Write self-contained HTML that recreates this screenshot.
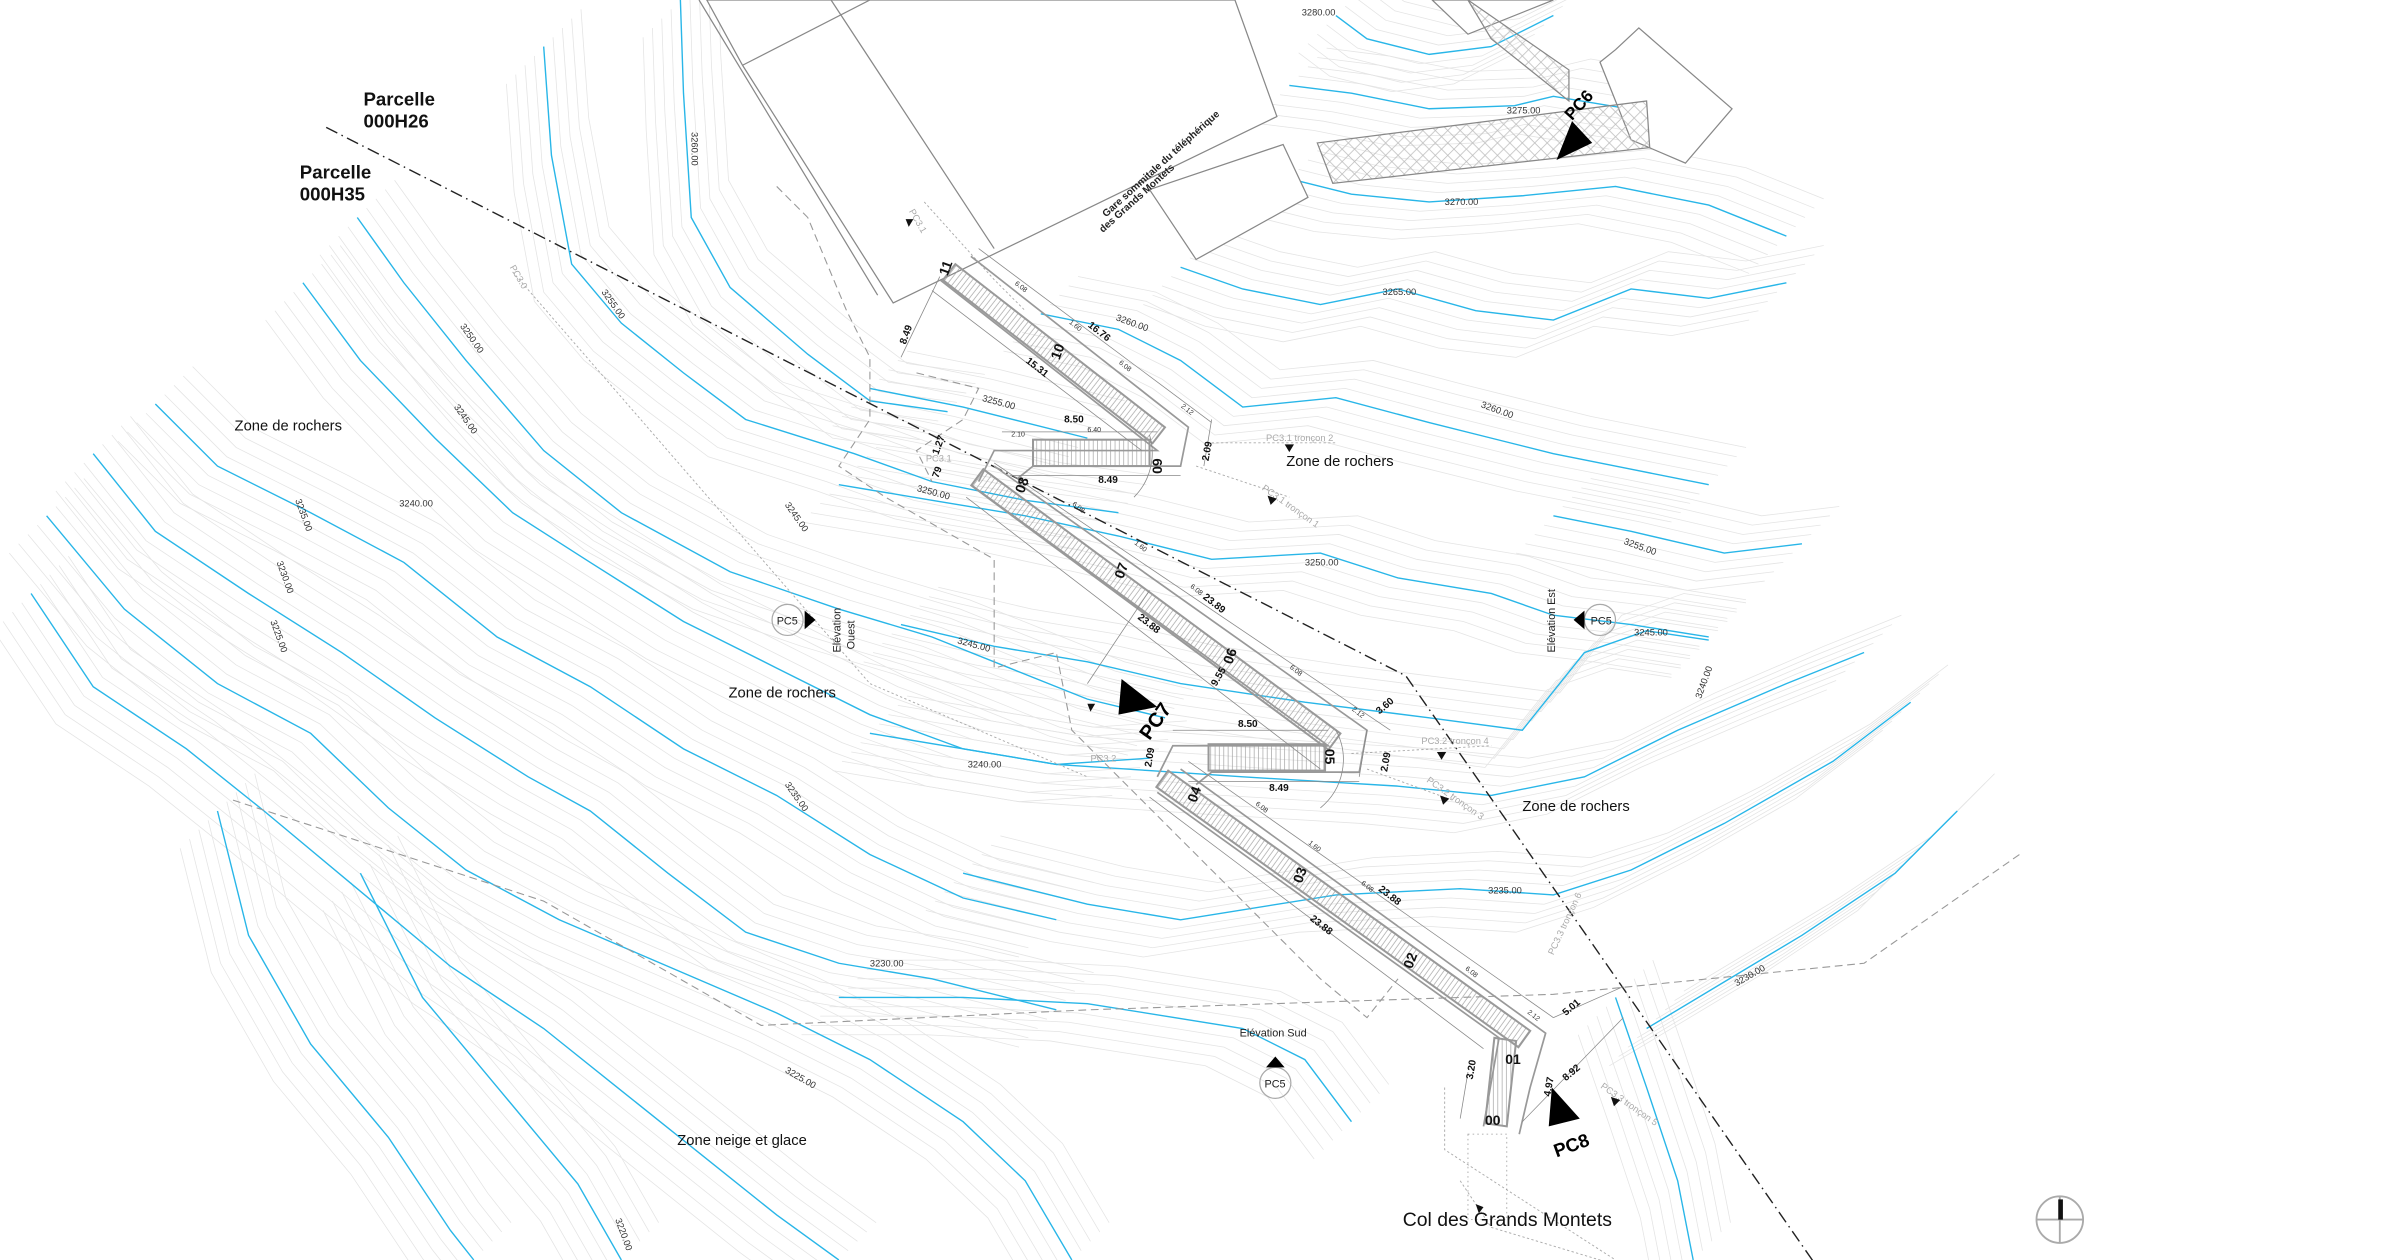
<!DOCTYPE html>
<html><head><meta charset="utf-8"><style>
html,body{margin:0;padding:0;background:#fff;width:2400px;height:1260px;overflow:hidden}
svg{display:block}
text{font-family:"Liberation Sans",sans-serif}
</style></head><body>
<svg width="2400" height="1260" viewBox="0 0 1545 811" preserveAspectRatio="none" xmlns="http://www.w3.org/2000/svg">
<defs>
<pattern id="hatch" width="2.8" height="20" patternUnits="userSpaceOnUse"><line x1="1" y1="0" x2="1" y2="20" stroke="#999" stroke-width="0.4"/></pattern>
<pattern id="xh" width="8" height="8" patternUnits="userSpaceOnUse"><path d="M0 0L8 8M8 0L0 8" stroke="#bbb" stroke-width="0.5"/></pattern>
<g id="blue">
<path d="M438 0L440 60L445 140L470 185L520 228L560 258L610 265"/>
<path d="M350 30L355 100L368 170L400 208L440 240L480 270L550 292L600 310L660 322L720 330"/>
<path d="M230 140L260 182L300 232L350 290L400 330L470 368L540 392L600 410L650 430L700 450L750 462"/>
<path d="M195 182L232 232L280 282L330 330L380 362L440 400L500 430L560 460L620 482L680 492L740 488"/>
<path d="M100 260L140 300L200 330L260 362L320 410L380 442L440 482L500 512L560 550L620 578L680 592"/>
<path d="M60 292L100 342L160 382L220 420L280 462L340 500L380 522L430 562L480 600L540 620L600 630L680 650"/>
<path d="M30 332L80 392L140 440L200 472L250 520L300 560L360 592L430 622L500 652L560 682L620 722L660 760L690 811"/>
<path d="M20 382L60 442L120 482L170 522L230 572L290 622L350 662L400 702L450 742L500 782L540 811"/>
<path d="M140 522L160 602L200 672L250 732L290 792L305 811"/>
<path d="M232 562L272 642L322 702L372 762L400 811"/>
<path d="M830 115L870 125L920 130L980 126L1040 120L1100 132L1150 152"/>
<path d="M830 55L870 60L920 70L975 68L1000 62L1060 72"/>
<path d="M860 10L880 25L920 35L960 30L1000 10"/>
<path d="M760 172L800 186L850 196L900 186L950 200L1000 206L1050 186L1100 192L1150 182"/>
<path d="M670 202L720 212L760 232L800 262L860 256L920 272L960 282L1000 292L1050 302L1100 312"/>
<path d="M560 250L620 262L660 272L700 282M1000 332L1050 342L1110 356L1160 350"/>
<path d="M540 312L600 322L660 332L720 345L780 360L850 356L900 372L960 382L1000 396L1050 402L1100 410"/>
<path d="M580 402L640 416L700 426L760 440L840 452L920 462L980 470L1020 420L1060 406L1100 412"/>
<path d="M560 472L620 482L680 492L740 496L800 500L900 506L960 512L1020 500L1080 470L1150 440L1200 420"/>
<path d="M620 562L660 572L700 582L760 592L860 576L940 572L1000 576L1050 560L1110 530L1180 490L1230 452"/>
<path d="M540 642L620 642L700 646L800 662L840 682L870 722M1060 662L1110 632L1160 602L1220 562L1260 522"/>
<path d="M1040 642L1060 700L1080 760L1090 811"/>
</g>
</defs>
<g fill="none" stroke="#e4e4e4" stroke-width="0.5">
<use href="#blue" transform="translate(6,-6)"/><use href="#blue" transform="translate(12,-12)"/>
<use href="#blue" transform="translate(-6,6)"/><use href="#blue" transform="translate(-12,12)"/>
<use href="#blue" transform="translate(18,-18)"/><use href="#blue" transform="translate(-18,18)"/>
<use href="#blue" transform="translate(24,-24)"/><use href="#blue" transform="translate(-24,24)"/>
</g>
<g fill="none" stroke="#29b6e8" stroke-width="0.9"><use href="#blue"/></g>

<g fill="#fff" stroke="#888" stroke-width="0.8">
<polygon points="478,42 575,195 822,75 795,0 455,0"/>
<line x1="450" y1="0" x2="565" y2="190"/>
<line x1="535" y1="0" x2="640" y2="160"/>
<line x1="478" y1="42" x2="560" y2="0"/>
<polygon points="740,122 770,167 842,127 826,93"/>
<polygon points="922,0 945,22 1000,0"/>
<polygon points="1030,40 1040,32 1055,18 1115,70 1085,105 1050,90"/>
<polygon points="848,92 1060,65 1062,95 858,118" fill="url(#xh)"/>
<polygon points="945,0 1010,45 1010,65 960,25" fill="url(#xh)"/>
</g>
<text transform="translate(712,140) rotate(-42)" font-size="6.5" font-weight="bold" fill="#222">Gare sommitale du téléphérique</text>
<text transform="translate(710,150) rotate(-42)" font-size="6.5" font-weight="bold" fill="#222">des Grands Montets</text>
<polygon points="1002,103 1012,78 1025,92" fill="#000"/>
<text transform="translate(1012,78) rotate(-48)" font-size="11" font-weight="bold">PC6</text>

<g fill="none" stroke="#999" stroke-width="0.7" stroke-dasharray="5,3">
<path d="M150 515L350 580L490 660L700 650L1000 640L1200 620L1300 550"/>
<path d="M500 120L520 140L545 200L560 230L560 270L540 300L570 320L640 360L640 430L680 420L690 470L720 500L850 630L880 655L900 630"/>
<path d="M590 240L630 250L620 270L590 290L600 310"/>
</g>
<g fill="none" stroke="#aaa" stroke-width="0.6" stroke-dasharray="1.5,1.5">
<path d="M330 175L560 440L700 500"/>
<path d="M595 130L640 180L660 200"/>
<path d="M940 760L960 790L1060 820"/>
<path d="M930 700L930 740L1040 811"/>
<path d="M780 285L860 285M770 300L830 320M870 485L960 480M880 495L935 515"/>
</g>
<path d="M210 82L905 435L1175 823" fill="none" stroke="#222" stroke-width="0.9" stroke-dasharray="8,3,1,3"/>

<g stroke="#999" stroke-width="1.3" fill="url(#hatch)">
<rect x="0" y="0" width="171" height="13" transform="translate(615,170) rotate(37.9)"/>
<rect x="0" y="0" width="286" height="13" transform="translate(633,302) rotate(36.5)"/>
<rect x="0" y="0" width="287" height="13" transform="translate(752,496) rotate(35.7)"/>
<rect x="665" y="283" width="75" height="17"/>
<rect x="778" y="479" width="75" height="17"/>
<polygon points="962,668 976,670 970,725 956,723"/>
</g>
<g fill="none" stroke="#999" stroke-width="1.1">
<polyline points="605,180 745,290 640,290 630,310"/>
<polyline points="625,165 765,275 760,300 665,300 655,308"/>
<polyline points="625,312 855,480 755,480 745,500"/>
<polyline points="640,300 880,470 875,497 780,497 770,505"/>
<polyline points="745,510 965,668 955,725"/>
<polyline points="760,495 995,665 985,700 978,730"/>
</g>
<g stroke="#999" stroke-width="0.5" stroke-dasharray="1,2" fill="none"><rect x="945" y="730" width="25" height="55"/></g>
<g stroke="#888" stroke-width="0.5" fill="none">
<line x1="630" y1="160" x2="780" y2="272"/><line x1="600" y1="187" x2="735" y2="290"/>
<line x1="640" y1="298" x2="895" y2="470"/><line x1="622" y1="320" x2="850" y2="495"/>
<line x1="765" y1="490" x2="1000" y2="655"/><line x1="740" y1="513" x2="955" y2="675"/>
<line x1="645" y1="278" x2="745" y2="278"/><line x1="650" y1="306" x2="760" y2="306"/>
<line x1="755" y1="470" x2="855" y2="470"/><line x1="765" y1="503" x2="875" y2="503"/>
<line x1="580" y1="230" x2="605" y2="178"/><line x1="780" y1="270" x2="775" y2="300"/>
<line x1="880" y1="470" x2="875" y2="500"/><line x1="1000" y1="655" x2="1045" y2="635"/>
<line x1="980" y1="722" x2="1045" y2="655"/><line x1="945" y1="690" x2="940" y2="720"/>
<line x1="700" y1="440" x2="740" y2="380"/>
<path d="M740 280 A40 40 0 0 1 730 320" /><path d="M860 470 A40 40 0 0 1 850 520"/>
</g>
<g font-weight="bold" fill="#111" font-size="9">
<text transform="translate(610,178) rotate(-70)">11</text>
<text transform="translate(682,232) rotate(-70)">10</text>
<text transform="translate(742,295) rotate(90)">60</text>
<text transform="translate(659,318) rotate(-70)">08</text>
<text transform="translate(723,373) rotate(-70)">07</text>
<text transform="translate(793,428) rotate(-70)">06</text>
<text transform="translate(853,482) rotate(90)">05</text>
<text transform="translate(770,517) rotate(-70)">04</text>
<text transform="translate(838,569) rotate(-70)">03</text>
<text transform="translate(909,624) rotate(-70)">02</text>
<text x="969" y="685">01</text>
<text x="956" y="724">00</text>
</g>
<g font-weight="bold" fill="#111" font-size="6.5">
<text transform="translate(583,222) rotate(-70)">8.49</text>
<text transform="translate(700,210) rotate(38)">16.76</text>
<text transform="translate(660,233) rotate(38)">15.31</text>
<text x="685" y="272">8.50</text><text x="707" y="311">8.49</text>
<text transform="translate(778,297) rotate(-80)">2.09</text>
<text transform="translate(604,293) rotate(-70)">1.27</text>
<text transform="translate(604,308) rotate(-70)">79</text>
<text transform="translate(774,385) rotate(38)">23.89</text>
<text transform="translate(732,398) rotate(38)">23.88</text>
<text transform="translate(783,442) rotate(-60)">9.55</text>
<text x="797" y="468">8.50</text><text x="817" y="509">8.49</text>
<text transform="translate(888,460) rotate(-40)">3.60</text>
<text transform="translate(893,497) rotate(-80)">2.09</text>
<text transform="translate(741,494) rotate(-80)">2.09</text>
<text transform="translate(887,573) rotate(38)">23.88</text>
<text transform="translate(843,592) rotate(38)">23.88</text>
<text transform="translate(1008,654) rotate(-40)">5.01</text>
<text transform="translate(1008,696) rotate(-40)">8.92</text>
<text transform="translate(948,695) rotate(-80)">3.20</text>
<text transform="translate(998,706) rotate(-80)">4.97</text>
</g>
<g fill="#333" font-size="4.5">
<text transform="translate(653,183) rotate(38)">6.08</text><text transform="translate(688,208) rotate(38)">1.60</text>
<text transform="translate(720,234) rotate(38)">6.08</text><text transform="translate(760,262) rotate(38)">2.12</text>
<text x="651" y="281">2.10</text><text x="700" y="278">6.40</text>
<text transform="translate(690,325) rotate(38)">6.08</text><text transform="translate(730,350) rotate(38)">1.60</text>
<text transform="translate(766,378) rotate(38)">6.08</text><text transform="translate(830,430) rotate(38)">6.08</text>
<text transform="translate(870,457) rotate(38)">2.12</text><text transform="translate(808,518) rotate(38)">6.08</text>
<text transform="translate(842,543) rotate(38)">1.60</text><text transform="translate(876,569) rotate(38)">6.08</text>
<text transform="translate(943,624) rotate(38)">6.08</text><text transform="translate(983,652) rotate(38)">2.12</text>
</g>
<g fill="#aaa" font-size="6">
<text x="815" y="284">PC3.1 tronçon 2</text>
<text transform="translate(812,315) rotate(35)">PC3.1 tronçon 1</text>
<text x="915" y="479">PC3.2 tronçon 4</text>
<text transform="translate(918,503) rotate(35)">PC3.2 tronçon 3</text>
<text transform="translate(1030,700) rotate(35)">PC3.3 tronçon 5</text>
<text transform="translate(1000,615) rotate(-65)">PC3.3 tronçon 6</text>
<text x="702" y="490">PC3.2</text><text x="596" y="297">PC3.1</text>
<text transform="translate(585,136) rotate(60)">PC3.1</text>
<text transform="translate(328,172) rotate(60)">PC3.0</text>
</g>
<g fill="#111">
<polygon points="827,286 833,286 830,291"/><polygon points="816,319 822,321 818,325"/>
<polygon points="925,484 931,484 928,489"/><polygon points="927,512 933,514 929,518"/>
<polygon points="583,141 588,141 585,146"/><polygon points="700,453 705,453 702,458"/>
<polygon points="1037,706 1043,708 1039,712"/><polygon points="950,775 955,777 952,781"/>
</g>
<polygon points="722,437 720,460 745,455" fill="#000"/>
<text transform="translate(740,477) rotate(-55)" font-size="13" font-weight="bold">PC7</text>
<polygon points="999,700 997,725 1017,720" fill="#000"/>
<text transform="translate(1002,745) rotate(-20)" font-size="12" font-weight="bold">PC8</text>
<g fill="none" stroke="#aaa" stroke-width="0.8">
<circle cx="507" cy="399" r="10"/><circle cx="1030" cy="399" r="10"/><circle cx="821" cy="697" r="10"/>
</g>
<g fill="#000">
<polygon points="518,393 525,399 518,405"/><polygon points="1020,393 1013,399 1020,405"/><polygon points="815,687 821,680 827,687"/>
</g>
<g font-size="7" fill="#222">
<text x="500" y="402">PC5</text><text x="1024" y="402">PC5</text><text x="814" y="700">PC5</text>
<text x="798" y="667">Elévation Sud</text>
<text transform="translate(541,420) rotate(-90)">Elévation</text>
<text transform="translate(550,418) rotate(-90)">Ouest</text>
<text transform="translate(1001,420) rotate(-90)">Elévation Est</text>
</g>
<g font-size="9.5" fill="#111">
<text x="151" y="277">Zone de rochers</text>
<text x="469" y="449">Zone de rochers</text>
<text x="828" y="300">Zone de rochers</text>
<text x="980" y="522">Zone de rochers</text>
<text x="436" y="737">Zone neige et glace</text>
</g>
<text x="903" y="789" font-size="12.5" fill="#111">Col des Grands Montets</text>
<g font-size="12" font-weight="bold" fill="#111">
<text x="234" y="68">Parcelle</text><text x="234" y="82">000H26</text>
<text x="193" y="115">Parcelle</text><text x="193" y="129">000H35</text>
</g>
<g font-size="6" fill="#333">
<text x="890" y="190">3265.00</text><text x="930" y="132">3270.00</text><text x="970" y="73">3275.00</text>
<text x="838" y="10">3280.00</text><text x="840" y="364">3250.00</text><text x="1052" y="409">3245.00</text>
<text x="958" y="575">3235.00</text><text x="560" y="622">3230.00</text><text x="623" y="494">3240.00</text>
<text transform="translate(632,258) rotate(15)">3255.00</text>
<text transform="translate(590,316) rotate(15)">3250.00</text>
<text transform="translate(616,414) rotate(15)">3245.00</text>
<text transform="translate(718,206) rotate(20)">3260.00</text>
<text transform="translate(953,262) rotate(20)">3260.00</text>
<text transform="translate(1045,350) rotate(20)">3255.00</text>
<text transform="translate(445,85) rotate(90)">3260.00</text>
<text transform="translate(387,188) rotate(55)">3255.00</text>
<text transform="translate(296,210) rotate(55)">3250.00</text>
<text transform="translate(292,262) rotate(55)">3245.00</text>
<text x="257" y="326">3240.00</text>
<text transform="translate(190,322) rotate(70)">3235.00</text>
<text transform="translate(178,362) rotate(70)">3230.00</text>
<text transform="translate(174,400) rotate(70)">3225.00</text>
<text transform="translate(505,325) rotate(55)">3245.00</text>
<text transform="translate(505,505) rotate(55)">3235.00</text>
<text transform="translate(505,690) rotate(30)">3225.00</text>
<text transform="translate(396,785) rotate(70)">3220.00</text>
<text transform="translate(1095,450) rotate(-70)">3240.00</text>
<text transform="translate(1118,635) rotate(-30)">3230.00</text>
</g>
<g stroke="#aaa" stroke-width="1.2" fill="none"><circle cx="1326" cy="785" r="15"/><line x1="1311" y1="785" x2="1341" y2="785"/><line x1="1326" y1="770" x2="1326" y2="800"/></g>
<rect x="1325" y="772" width="3" height="13" fill="#111"/>
</svg>
</body></html>
